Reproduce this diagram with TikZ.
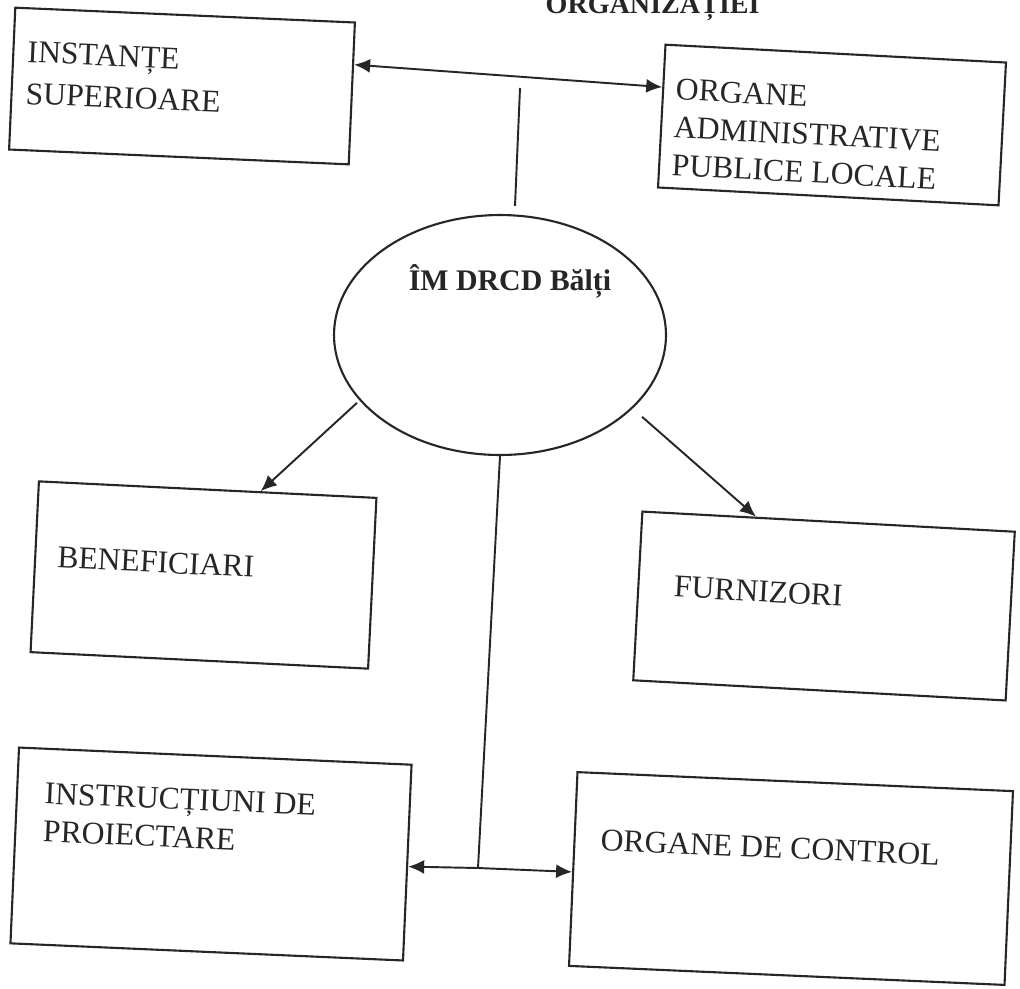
\documentclass[tikz,border=0pt]{standalone}
\usepackage{fontspec}
\setmainfont{Liberation Serif}
\usetikzlibrary{arrows.meta,calc,shapes.geometric}
\definecolor{ink}{RGB}{38,38,38}
\begin{document}
\begin{tikzpicture}[x=0.02cm,y=-0.02cm,
  boxst/.style={draw=ink, line width=1.2pt, rectangle, inner sep=0pt},
  txt/.style={font=\fontsize{18}{21.6}\selectfont, text=ink, inner sep=0pt, anchor=base west},
  ellst/.style={draw=ink, line width=1.2pt, ellipse, inner sep=0pt, minimum width=6.64cm, minimum height=4.8cm},
  lnk/.style={draw=ink, line width=1.1pt},
  arr/.style={lnk, -{Latex[length=3.2mm,width=2.8mm]}},
  arrr/.style={lnk, {Latex[length=3.2mm,width=2.8mm]}-{Latex[length=3.2mm,width=2.8mm]}}]
\useasboundingbox (0,0) rectangle (1020,988);
\clip (0,0) rectangle (1020,988);
\fill[white] (0,0) rectangle (1020,988);

% partially visible title (cut by the top edge)
\node[font=\bfseries\fontsize{16}{18}\selectfont, text=ink, inner sep=0pt, anchor=base east] (title) at (760,13) {ORGANIZAȚIEI};

% INSTANTE SUPERIOARE
\begin{scope}[shift={(182,86)}, rotate=-2.5, transform shape]
  \node[boxst, minimum width=6.8cm, minimum height=2.84cm] (b1) at (0,0) {};
  \node[txt] (t1a) at (-156,-17) {INSTANȚE};
  \node[txt] (t1b) at (-156,25) {SUPERIOARE};
\end{scope}

% ORGANE ADMINISTRATIVE PUBLICE LOCALE
\begin{scope}[shift={(832,125)}, rotate=-3, transform shape]
  \node[boxst, minimum width=6.82cm, minimum height=2.86cm] (b2) at (0,0) {};
  \node[txt] (t2a) at (-158,-17) {ORGANE};
  \node[txt] (t2b) at (-158,21) {ADMINISTRATIVE};
  \node[txt] (t2c) at (-158,59) {PUBLICE LOCALE};
\end{scope}

% BENEFICIARI
\begin{scope}[shift={(203.5,575)}, rotate=-2.8, transform shape]
  \node[boxst, minimum width=6.76cm, minimum height=3.42cm] (b3) at (0,0) {};
  \node[txt] (t3) at (-147,0) {BENEFICIARI};
\end{scope}

% FURNIZORI
\begin{scope}[shift={(824,606)}, rotate=-3.1, transform shape]
  \node[boxst, minimum width=7.46cm, minimum height=3.38cm] (b4) at (0,0) {};
  \node[txt] (t4) at (-151,-1) {FURNIZORI};
\end{scope}

% INSTRUCTIUNI DE PROIECTARE
\begin{scope}[shift={(211,854)}, rotate=-2.5, transform shape]
  \node[boxst, minimum width=7.86cm, minimum height=3.92cm] (b5) at (0,0) {};
  \node[txt] (t5a) at (-169,-43) {INSTRUCȚIUNI DE};
  \node[txt] (t5b) at (-169,-5) {PROIECTARE};
\end{scope}

% ORGANE DE CONTROL
\begin{scope}[shift={(791,878.5)}, rotate=-2.5, transform shape]
  \node[boxst, minimum width=8.72cm, minimum height=3.88cm] (b6) at (0,0) {};
  \node[txt] (t6) at (-192,-20) {ORGANE DE CONTROL};
\end{scope}

% central ellipse
\node[ellst] (ell) at (500,335) {};
\node[font=\bfseries\fontsize{17}{20}\selectfont, text=ink, inner sep=0pt, anchor=base] (elltxt) at (510,290) {ÎM DRCD Bălți};

% connectors
\draw[arrr] ($(b1.north east)!0.3!(b1.south east)$) -- ($(b2.north west)!0.3!(b2.south west)$);
\coordinate (vt1) at (520,88);
\coordinate (vt2) at (515,206);
\draw[lnk] (vt1) -- (vt2);

\draw[arr, shorten <=2pt] (ell.205) -- ($(b3.north west)!0.656!(b3.north east)$);
\draw[arr, shorten <=0.25cm] (ell.331) -- ($(b4.north west)!0.306!(b4.north east)$);

\coordinate (jn) at (478,868);
\draw[lnk] (ell.south) -- (jn);
\draw[arr] (jn) -- ($(b5.north east)!0.52!(b5.south east)$);
\draw[arr] (jn) -- ($(b6.north west)!0.515!(b6.south west)$);
\end{tikzpicture}
\end{document}
